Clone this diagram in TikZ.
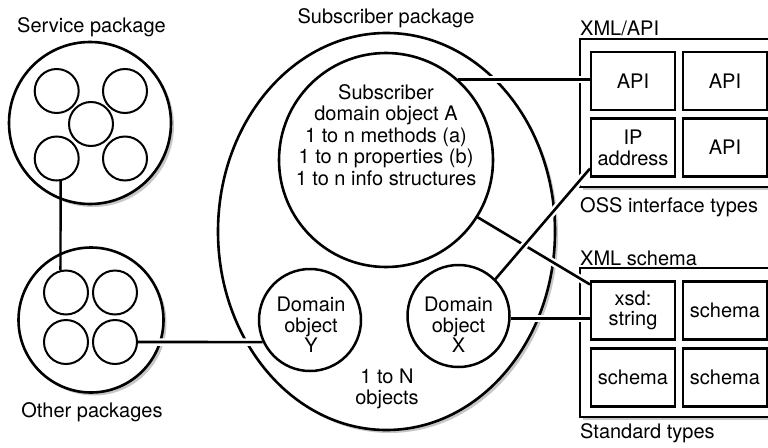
\documentclass[tikz,border=0pt]{standalone}
\usepackage{fontspec}
\setmainfont{TeX Gyre Heros}
\usetikzlibrary{shadows,shapes.geometric}
\begin{document}
\begin{tikzpicture}[x=1pt,y=-1pt,
  txt/.style={font=\fontsize{20}{21.5}\selectfont, align=center, inner sep=0pt},
  lbl/.style={font=\fontsize{20}{21.5}\selectfont, inner sep=0pt, anchor=west},
  shad/.style={drop shadow={shadow xshift=3pt, shadow yshift=-3pt, fill=black!22, opacity=1}},
  pkg/.style={circle, draw, line width=2.6pt, fill=white, inner sep=0pt, shad},
  small/.style={circle, draw, line width=2pt, fill=white, inner sep=0pt, minimum size=44pt},
  dobj/.style={circle, draw, line width=2.5pt, fill=white, inner sep=0pt, minimum size=102pt},
  tbox/.style={rectangle, draw, line width=2.1pt, fill=white, inner sep=0pt, minimum width=84pt, minimum height=58pt, align=center, font=\fontsize{20}{21}\selectfont},
  outer/.style={rectangle, draw, line width=2.3pt, fill=white, shad},
  conn/.style={line width=2.6pt, preaction={draw=white, line width=7.5pt, shorten >=5pt, shorten <=5pt}}
]
\useasboundingbox (0,0) rectangle (768,447);

% Service package
\node[pkg, minimum size=162pt] (svc) at (90,123) {};
\node[small] (s1) at (56.7,91) {};
\node[small] (s2) at (125,91) {};
\node[small] (s3) at (91,124) {};
\node[small] (s4) at (56.7,158.5) {};
\node[small] (s5) at (125,158.5) {};
\node[txt] (svcl) at (91.5,27) {Service package};

% Other packages
\node[pkg, minimum size=145pt] (oth) at (91,320) {};
\node[small] (o1) at (66,292.5) {};
\node[small] (o2) at (115,292.5) {};
\node[small] (o3) at (66,342) {};
\node[small] (o4) at (115,342) {};
\node[txt] (othl) at (92,412) {Other packages};

% Subscriber package
\node[ellipse, draw, line width=2.6pt, fill=white, inner sep=0pt, minimum width=337pt, minimum height=397pt, shad] (sub) at (386.5,231.5) {};
\node[txt] (subl) at (386,18) {Subscriber package};
\node[circle, draw, line width=2.6pt, fill=white, inner sep=0pt, minimum size=214pt] (A) at (386,160) {};
\node[txt] (At) at (386,135) {Subscriber\\domain object A\\1 to n methods (a)\\1 to n properties (b)\\1 to n info structures};
\node[dobj] (Y) at (310,320) {};
\node[txt, font=\fontsize{20}{20.5}\selectfont] (Yt) at (311,325) {Domain\\object\\Y};
\node[dobj] (X) at (458.5,316) {};
\node[txt, font=\fontsize{20}{20.5}\selectfont] (Xt) at (458.5,325) {Domain\\object\\X};
\node[txt] (nobj) at (387,389) {1 to N\\objects};

% XML/API
\node[lbl] (xapil) at (580,28) {XML/API};
\draw[outer] (580,39) rectangle (778,187);
\node[tbox] (api1) at (633,81) {API};
\node[tbox] (api2) at (725,81) {API};
\node[tbox] (ip) at (633,147.5) {IP\\address};
\node[tbox] (api3) at (725,147.5) {API};
\node[lbl] (ossl) at (580,207) {OSS interface types};

% XML schema
\node[lbl] (xschl) at (580,258) {XML schema};
\draw[outer] (580,268) rectangle (778,417);
\node[tbox, font=\fontsize{20}{20}\selectfont] (xsd) at (633,310.5) {xsd:\\string};
\node[tbox] (sc1) at (725,310.5) {schema};
\node[tbox] (sc2) at (633,377.5) {schema};
\node[tbox] (sc3) at (725,377.5) {schema};
\node[lbl] (stdl) at (580,433) {Standard types};

% connectors
\draw[line width=2.4pt] (s4.-80) -- (o1.104);
\draw[conn] (o4.east) -- (Y.205);
\draw[conn] (A.48) -- (A.48 -| api1.west);
\draw[conn] (A.-32) -- ([yshift=-4pt]xsd.north west);
\draw[conn] (X.45) -- ([yshift=9pt]ip.south west);
\draw[conn] (X.-3) -- (X.-3 -| xsd.west);
\end{tikzpicture}
\end{document}
